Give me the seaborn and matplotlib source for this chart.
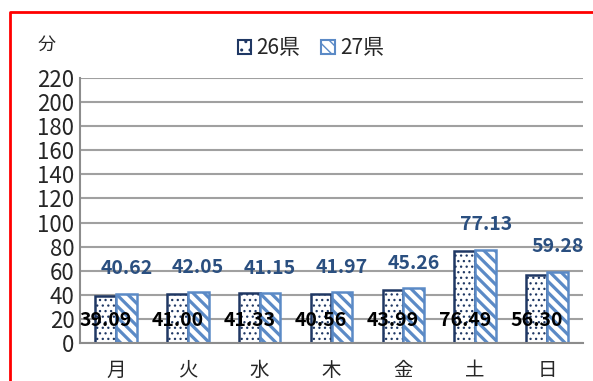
import matplotlib
matplotlib.use("Agg")
import matplotlib.pyplot as plt
import seaborn as sns
import pandas as pd
from matplotlib.patches import Patch
from matplotlib.lines import Line2D

days = ["月", "火", "水", "木", "金", "土", "日"]
series_names = ["26県", "27県"]
vals_26 = [39.09, 41.00, 41.33, 40.56, 43.99, 76.49, 56.30]
vals_27 = [40.62, 42.05, 41.15, 41.97, 45.26, 77.13, 59.28]
yticks = list(range(0, 221, 20))

sns.set_theme(style="white")
plt.rcParams['font.family'] = ['Noto Sans CJK JP', 'DejaVu Sans']
plt.rcParams['hatch.linewidth'] = 1.0

df = pd.DataFrame({
    "day": days * 2,
    "series": [series_names[0]] * len(days) + [series_names[1]] * len(days),
    "value": vals_26 + vals_27,
})

fig = plt.figure(figsize=(5.93, 3.81), dpi=100)
ax = fig.add_axes([80/593, 38/381, 503/593, 265/381])

navy = "#203864"
blue = "#5B8AC6"
label_blue = "#2A4F80"

sns.barplot(data=df, x="day", y="value", hue="series", order=days,
            hue_order=series_names, width=0.58, gap=0, ax=ax,
            palette=["white", "white"], legend=False, saturation=1)

styles = [dict(edge=navy, hatch="...", hlw=0.9), dict(edge=blue, hatch="\\\\\\", hlw=2.3)]
for cont, st in zip(ax.containers, styles):
    for p in cont:
        p.set_edgecolor(st["edge"])
        p.set_hatch(st["hatch"])
        p.set_linewidth(1.8)
        p.set_facecolor("white")
        if hasattr(p, "set_hatch_linewidth"):
            p.set_hatch_linewidth(st["hlw"])

# data labels
for p, v in zip(ax.containers[0], vals_26):
    ax.text(p.get_x() + p.get_width()/2, 19, f"{v:.2f}", ha="center", va="center",
            fontsize=14, fontweight="bold", color="black", zorder=5)
for p, v in zip(ax.containers[1], vals_27):
    ax.text(p.get_x() + p.get_width()/2, v + 21, f"{v:.2f}", ha="center", va="center",
            fontsize=14, fontweight="bold", color=label_blue, zorder=5)

ax.set_ylim(0, 220)
ax.set_yticks(yticks)
ax.set_yticklabels([str(t) for t in yticks], fontsize=16)
ax.set_xlim(-0.5, len(days) - 0.5)
ax.tick_params(axis="x", labelsize=14, length=0, pad=12)
ax.tick_params(axis="y", length=0, pad=4)
ax.set_xlabel("")
ax.set_ylabel("")
ax.yaxis.grid(True, color="#A0A0A0", linewidth=1.5)
ax.set_axisbelow(True)
for s in ["top", "right"]:
    ax.spines[s].set_visible(False)
for s in ["left", "bottom"]:
    ax.spines[s].set_color("#8C8C8C")
    ax.spines[s].set_linewidth(1.5)

fig.text(47/593, 1 - 45/381, "分", fontsize=13, ha="center", va="center")

handles = [Patch(facecolor="white", edgecolor=navy, hatch="..", linewidth=1.5),
           Patch(facecolor="white", edgecolor=blue, hatch="\\\\\\", linewidth=1.5)]
fig.legend(handles, series_names, loc="center", bbox_to_anchor=(311/593, 1 - 48/381),
           ncol=2, frameon=False, fontsize=15, handlelength=0.65, handleheight=0.65,
           handletextpad=0.25, columnspacing=1.0)

# red frame
fig.add_artist(Line2D([10/593, 10/593, 1.0], [0, 1 - 12/381, 1 - 12/381],
                      transform=fig.transFigure, color="red", linewidth=2))

fig.savefig("out.png", dpi=100)
